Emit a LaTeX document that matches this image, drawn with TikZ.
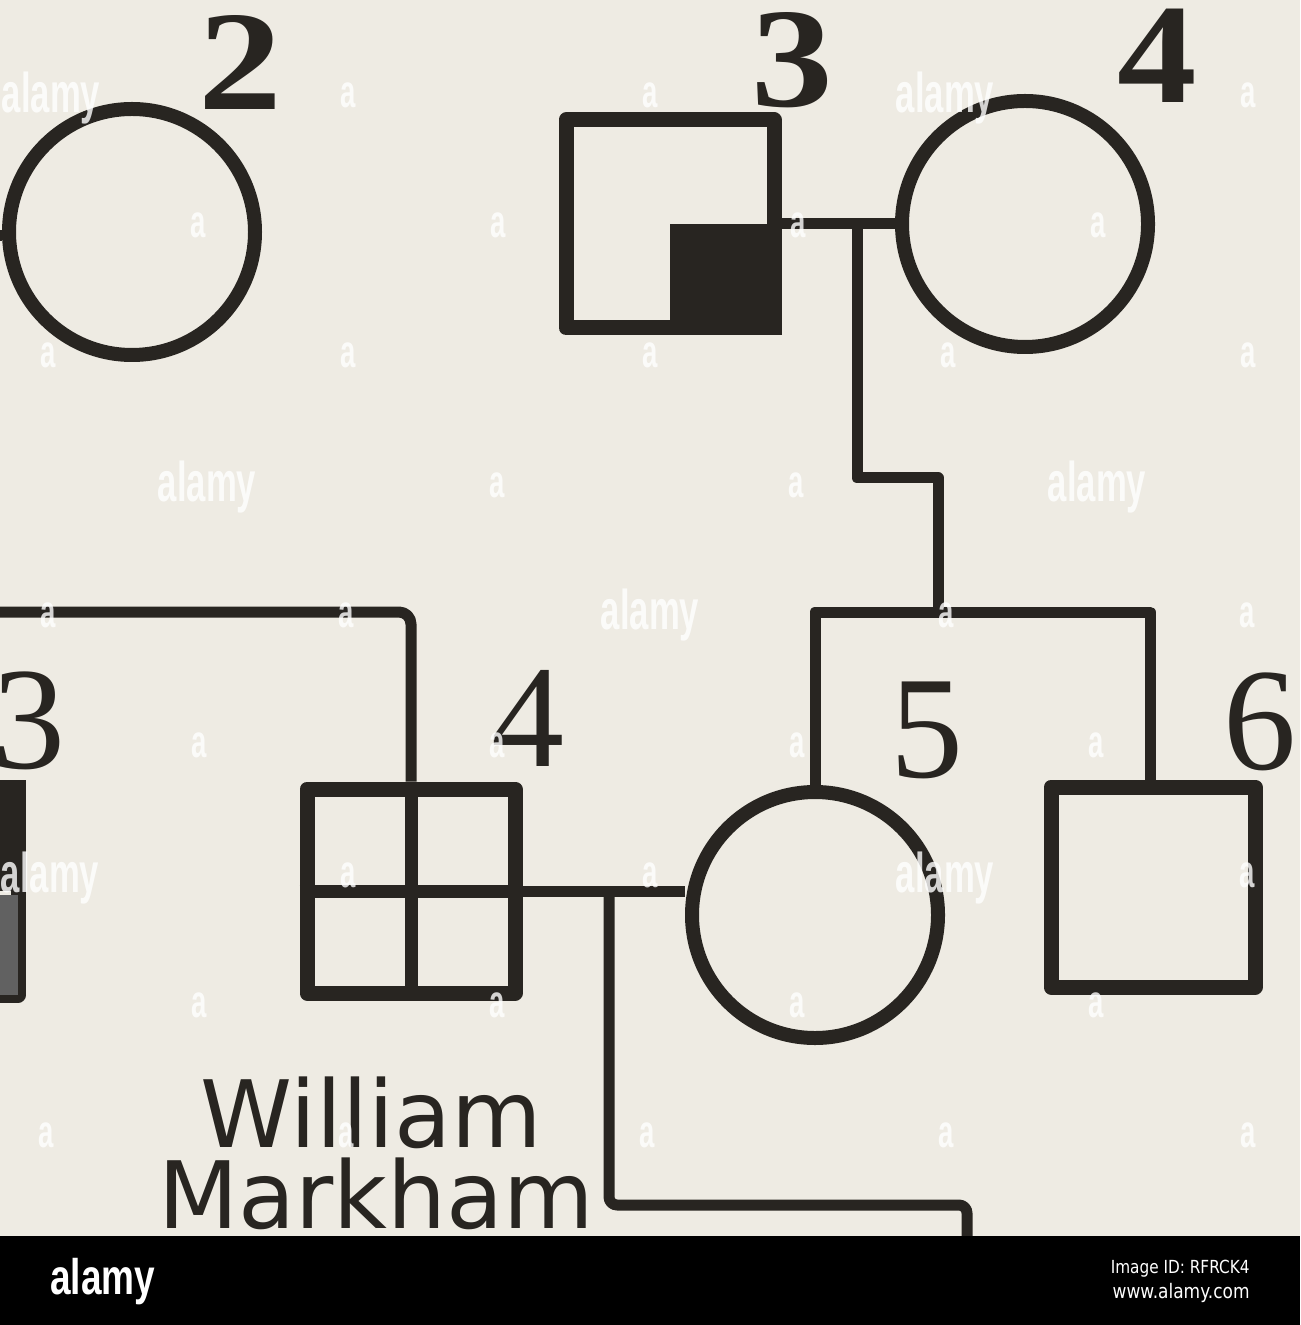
\documentclass[tikz,border=0pt]{standalone}
\usepackage{fontspec}
\setmainfont{Liberation Serif}
\newfontfamily\namefont{DejaVu Sans}
\newfontfamily\wmfont{Liberation Sans}
\usetikzlibrary{calc}
\definecolor{paper}{RGB}{238,235,227}
\definecolor{ink}{RGB}{40,37,33}
\tikzset{
  person/.style={draw=ink, line width=7pt, inner sep=0pt, fill=none},
  fem/.style={person, circle, minimum size=123pt},
  male/.style={person, line width=7.5pt, rectangle, minimum width=104pt, minimum height=104pt},
  link/.style={draw=ink, line width=5.5pt},
  numr/.style={text=ink, inner sep=0pt, font=\fontsize{73}{73}\selectfont},
  numb/.style={text=ink, inner sep=0pt, font=\fontsize{71}{71}\selectfont\bfseries},
  namelab/.style={text=ink, inner sep=0pt, anchor=base, font=\fontsize{46.5}{46.5}\namefont},
  wmword/.style={text=white, opacity=0.8, inner sep=0pt, font=\fontsize{28}{28}\wmfont\bfseries},
  wmsmall/.style={text=white, opacity=0.8, inner sep=0pt, font=\fontsize{23}{23}\wmfont\bfseries},
  barlogo/.style={text=white, inner sep=0pt, font=\fontsize{25}{25}\wmfont\bfseries},
  bartext/.style={text=white, inner sep=0pt, anchor=base east, font=\fontsize{9}{9}\namefont}
}
\begin{document}
\begin{tikzpicture}[x=0.5pt, y=-0.5pt, line join=round]
\fill[paper] (0,0) rectangle (1300,1325);
\useasboundingbox (0,0) rectangle (1300,1325);

% --- top generation ---
\node[fem] (c2) at (132,232) {};
\node[male] (sq3) at (670,224) {};
\fill[ink] (sq3.center) rectangle (sq3.south east);
\node[fem] (c4) at (1025,224) {};

\node[numb] (l2) at (240,62) {\scalebox{1.18}[1]{2}};
\node[numb] (l3) at (792,60) {\scalebox{1.15}[1]{3}};
\node[numb] (l4) at (1157,56) {\scalebox{1.12}[1]{4}};

\coordinate (m12) at (0,236);
\draw[link] (m12) -- (m12 -| c2.west);
\draw[link] (sq3.east) -- (c4.west);

\coordinate (d34) at (857,224);
\coordinate (j1) at (857,478);
\coordinate (j2) at (938,478);
\coordinate (s56) at (938,612);
\coordinate (s5) at (815,612);
\coordinate (s6) at (1150,612);
\draw[link] (d34) -- (j1) -- (j2) -- (s56);

% --- second generation ---
\node[male] (sq3b) at (-86,891) {};
\fill[black!62] ($(sq3b.center)+(0,4)$) rectangle ($(sq3b.south east)+(-8,-8)$);
\fill[ink] (sq3b.center) rectangle (sq3b.north east);

\node[male, minimum height=102pt] (sq4) at (411,891) {};
\draw[link, line width=6.5pt] (sq4.north) -- (sq4.south) (sq4.west) -- (sq4.east);
\node[fem] (c5) at (815,915) {};
\node[male, minimum width=102pt, minimum height=100pt] (sq6) at (1153,887) {};

\node[numr] (l3b) at (29,721) {3};
\node[numr] (l4b) at (528,718) {4};
\node[numr] (l5) at (927,730) {5};
\node[numr] (l6) at (1260,722) {6};

\coordinate (sL) at (0,612);
\draw[link, rounded corners=6pt] (sL) -- (sq4.north |- sL) -- (sq4.north);
\draw[link] (c5.north) -- (s5) -- (s6) -- (s6 |- sq6.north);
\draw[link] (sq4.east) -- (sq4.east -| c5.west);

\coordinate (d45) at (609,891);
\coordinate (k1) at (609,1205);
\coordinate (k2) at (967,1205);
\coordinate (k3) at (967,1245);
\draw[link, rounded corners=4pt] (d45) -- (k1) -- (k2) -- (k3);

\node[namelab] (wm1) at (371,1147) {William};
\node[namelab] (wm2) at (376,1228) {Markham};

% --- watermarks ---
\foreach \x/\y in {51/98, 945/98, 207/487, 1097/487, 650/615, 50/878, 945/878}
  \node[wmword] (ww-\x-\y) at (\x,\y) {\scalebox{0.62}[1]{alamy}};
\foreach \x/\y in {348/95, 650/95, 1248/95,
  198/225, 498/225, 798/225, 1098/225,
  48/355, 348/355, 650/355, 948/355, 1248/355,
  497/485, 796/485,
  48/615, 346/615, 946/615, 1247/615,
  199/745, 497/745, 797/745, 1096/745,
  348/875, 650/875, 1247/875,
  199/1005, 497/1005, 797/1005, 1096/1005,
  46/1135, 346/1135, 647/1135, 946/1135, 1248/1135}
  \node[wmsmall] (wa-\x-\y) at (\x,\y) {\scalebox{0.6}[1]{a}};

% --- bottom bar ---
\fill[black] (0,1236) rectangle (1300,1325);
\node[barlogo, anchor=base west] (logo) at (50,1294) {\scalebox{0.74}[1]{alamy}};
\node[bartext] (imgid) at (1250,1273) {\scalebox{0.85}[1]{Image ID: RFRCK4}};
\node[bartext, font=\fontsize{10}{10}\namefont] (www) at (1250,1298) {\scalebox{0.85}[1]{www.alamy.com}};
\end{tikzpicture}
\end{document}
